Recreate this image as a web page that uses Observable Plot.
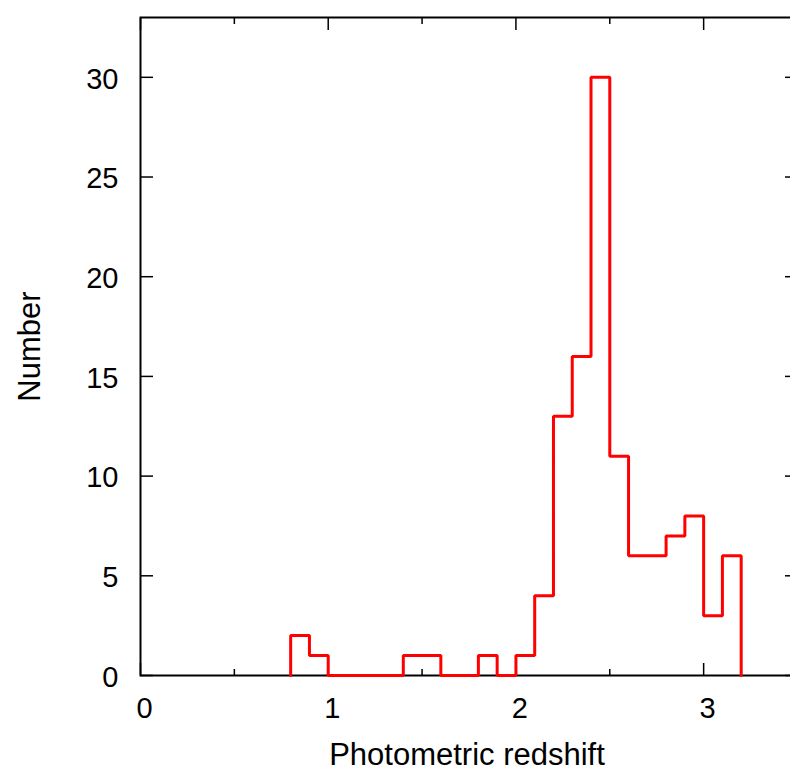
<!DOCTYPE html>
<html>
<head>
<meta charset="utf-8">
<script src="https://cdn.jsdelivr.net/npm/d3@7"></script>
<script src="https://cdn.jsdelivr.net/npm/@observablehq/plot@0.6"></script>
<style>
  html, body { margin: 0; padding: 0; background: #fff; overflow: hidden; }
  #chart svg { display: block; max-width: none !important; width: 800px !important; height: 771px !important; }
  #chart svg text { font-family: "Liberation Sans", Arial, Helvetica, sans-serif !important; fill: #000; }
</style>
</head>
<body>
<div id="chart"></div>
<script>
// Histogram of photometric redshifts (bin width 0.1)
const binStarts = [0.8, 0.9, 1.0, 1.1, 1.2, 1.3, 1.4, 1.5, 1.6, 1.7, 1.8, 1.9,
                   2.0, 2.1, 2.2, 2.3, 2.4, 2.5, 2.6, 2.7, 2.8, 2.9, 3.0, 3.1];
const binEnd = 3.2;
const counts = [2, 1, 0, 0, 0, 0, 1, 1, 0, 0, 1, 0,
                1, 4, 13, 16, 30, 11, 6, 6, 7, 8, 3, 6];

const xMajorTicks = [0, 1, 2, 3];
const xMinorTicks = [0.5, 1.5, 2.5, 3.5];
const yTicks = [0, 5, 10, 15, 20, 25, 30];
const xTitle = "Photometric redshift";
const yTitle = "Number";

// step outline: start at baseline, one point per bin, back down to baseline at the end
const outline = [{x: binStarts[0], y: 0}]
  .concat(binStarts.map((b, i) => ({x: b, y: counts[i]})))
  .concat([{x: binEnd, y: 0}]);

const tickFs = 29;
const titleFs = 31;
const fmt = d3.format("d");

const chart = Plot.plot({
  width: 800,
  height: 771,
  marginLeft: 140,
  marginRight: 3,
  marginTop: 17,
  marginBottom: 96,
  style: {background: "#fff"},
  x: {domain: [0, 3.5]},
  y: {domain: [0, 33]},
  marks: [
    // tick labels
    Plot.axisY({anchor: "left", ticks: yTicks, tickSize: 0, tickPadding: 22, dy: 2, tickFormat: fmt, fontSize: tickFs, label: null}),
    Plot.axisX({anchor: "bottom", ticks: xMajorTicks, tickSize: 0, tickPadding: 22, dx: 4, tickFormat: fmt, fontSize: tickFs, label: null}),
    // inward ticks
    Plot.axisY({anchor: "left", ticks: yTicks, tickSize: -13, strokeWidth: 1.5, tickFormat: () => "", label: null}),
    Plot.axisY({anchor: "right", ticks: yTicks, tickSize: -13, strokeWidth: 1.5, tickFormat: () => "", label: null}),
    Plot.axisX({anchor: "bottom", ticks: xMajorTicks, tickSize: -12, strokeWidth: 1.5, tickFormat: () => "", label: null}),
    Plot.axisX({anchor: "top", ticks: xMajorTicks, tickSize: -12, strokeWidth: 1.5, tickFormat: () => "", label: null}),
    Plot.axisX({anchor: "bottom", ticks: xMinorTicks, tickSize: -6, strokeWidth: 1.5, tickFormat: () => "", label: null}),
    Plot.axisX({anchor: "top", ticks: xMinorTicks, tickSize: -6, strokeWidth: 1.5, tickFormat: () => "", label: null}),
    Plot.frame({stroke: "#000", strokeWidth: 2}),
    // histogram outline
    Plot.line(outline, {x: "x", y: "y", curve: "step-after", stroke: "#ff0000", strokeWidth: 3, strokeLinejoin: "miter"}),
    // axis titles
    Plot.text([yTitle], {frameAnchor: "left", text: d => d, rotate: -90, textAnchor: "middle", lineAnchor: "middle", dx: -110.5, fontSize: titleFs, fill: "#000"}),
    Plot.text([xTitle], {frameAnchor: "bottom", text: d => d, textAnchor: "middle", lineAnchor: "middle", dx: -2, dy: 80, fontSize: titleFs, fill: "#000"})
  ]
});

document.getElementById("chart").appendChild(chart);
</script>
</body>
</html>
